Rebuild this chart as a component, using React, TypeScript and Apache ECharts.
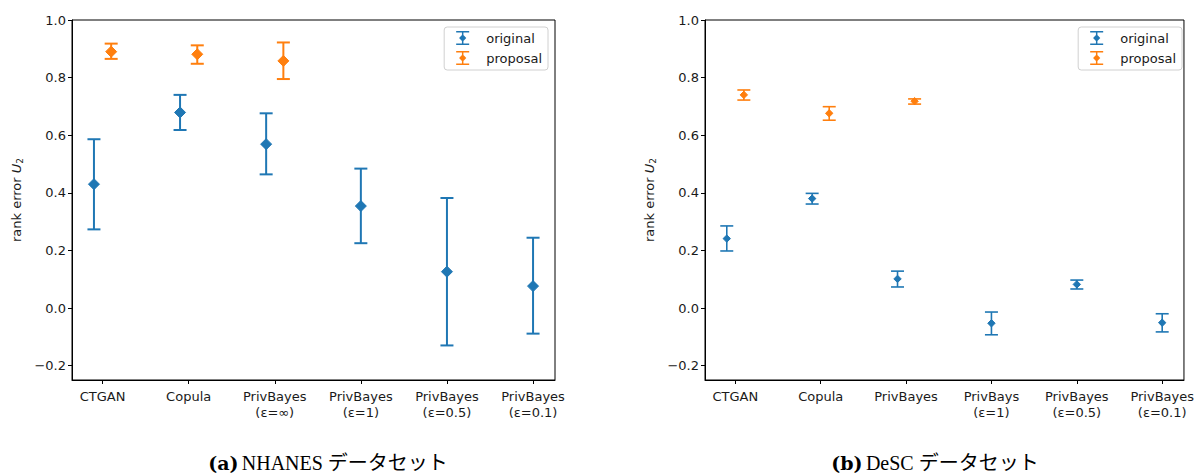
import React, { useEffect, useRef } from 'react';
import * as echarts from 'echarts';

// ---- data ----
const leftCategories = ['CTGAN', 'Copula', 'PrivBayes\n(ε=∞)', 'PrivBayes\n(ε=1)', 'PrivBayes\n(ε=0.5)', 'PrivBayes\n(ε=0.1)'];
const rightCategories = ['CTGAN', 'Copula', 'PrivBayes', 'PrivBays\n(ε=1)', 'PrivBayes\n(ε=0.5)', 'PrivBayes\n(ε=0.1)'];
const yTicks = [-0.2, 0.0, 0.2, 0.4, 0.6, 0.8, 1.0];

const leftOriginalMean = [0.43, 0.679, 0.569, 0.354, 0.126, 0.076];
const leftOriginalLow = [0.273, 0.618, 0.464, 0.225, -0.13, -0.089];
const leftOriginalHigh = [0.586, 0.74, 0.676, 0.484, 0.382, 0.244];
const leftProposalMean = [0.89, 0.881, 0.858];
const leftProposalLow = [0.865, 0.848, 0.795];
const leftProposalHigh = [0.918, 0.912, 0.922];

const rightOriginalMean = [0.241, 0.38, 0.101, -0.053, 0.082, -0.051];
const rightOriginalLow = [0.198, 0.361, 0.073, -0.093, 0.066, -0.083];
const rightOriginalHigh = [0.285, 0.398, 0.128, -0.014, 0.097, -0.02];
const rightProposalMean = [0.74, 0.676, 0.718];
const rightProposalLow = [0.722, 0.652, 0.708];
const rightProposalHigh = [0.757, 0.699, 0.726];

const seriesNames = ['original', 'proposal'];

// ---- style ----
const BLUE = '#1f77b4';
const ORANGE = '#ff7f0e';
const FONT = "'DejaVu Sans', sans-serif";
const TEXT = '#1a1a1a';
const OFFSET = 0.1;
const ICON = 'path://M0,0h13v1.5h-13z M0,12.5h13v1.5h-13z M5.75,0h1.5v14h-1.5z M6.5,3.2l3.6,3.8l-3.6,3.8l-3.6,-3.8z';

function buildData(mean: number[], low: number[], high: number[], pairedCount: number, shift: number) {
  return mean.map((m, i) => [i + (i < pairedCount ? shift : 0), m, low[i], high[i]]);
}

function makeRenderItem(color: string, half: number, lw: number) {
  return (params: any, api: any) => {
    const x = api.value(0);
    const y = api.value(1);
    const lo = api.value(2);
    const hi = api.value(3);
    const c = api.coord([x, y]);
    const pl = api.coord([x, lo]);
    const ph = api.coord([x, hi]);
    const cap = 6.5;
    const ls = { stroke: color, lineWidth: lw };
    return {
      type: 'group',
      children: [
        { type: 'line', shape: { x1: c[0], y1: pl[1], x2: c[0], y2: ph[1] }, style: ls },
        { type: 'line', shape: { x1: c[0] - cap, y1: pl[1], x2: c[0] + cap, y2: pl[1] }, style: ls },
        { type: 'line', shape: { x1: c[0] - cap, y1: ph[1], x2: c[0] + cap, y2: ph[1] }, style: ls },
        {
          type: 'polygon',
          shape: { points: [[c[0], c[1] - half], [c[0] + half, c[1]], [c[0], c[1] + half], [c[0] - half, c[1]]] },
          style: { fill: color, stroke: color, lineWidth: 1 },
        },
      ],
    };
  };
}

function fmtY(v: number) {
  const s = Math.abs(v).toFixed(1);
  return v < -1e-9 ? '\u2212' + s : s;
}

function xAxisFor(idx: number, cats: string[]) {
  return {
    type: 'value',
    gridIndex: idx,
    min: -0.355,
    max: 5.255,
    splitLine: { show: false },
    axisLine: { show: true, onZero: false, lineStyle: { color: '#000', width: 1 } },
    axisTick: { show: true, length: 4, lineStyle: { color: '#000' }, customValues: cats.map((_, i) => i) },
    axisLabel: {
      customValues: cats.map((_, i) => i),
      formatter: (v: number) => cats[Math.round(v)] ?? '',
      fontFamily: FONT,
      fontSize: 13,
      color: TEXT,
      lineHeight: 16,
      margin: 8,
    },
  };
}

function yAxisFor(idx: number) {
  return {
    type: 'value',
    gridIndex: idx,
    min: -0.25,
    max: 1.0,
    splitLine: { show: false },
    axisLine: { show: true, onZero: false, lineStyle: { color: '#000', width: 1 } },
    axisTick: { show: true, length: 4, lineStyle: { color: '#000' }, customValues: yTicks },
    axisLabel: { customValues: yTicks, formatter: fmtY, fontFamily: FONT, fontSize: 13, color: TEXT, margin: 6 },
    name: '{n|rank error }{i|U}{s|2}',
    nameLocation: 'middle',
    nameGap: 48,
    nameRotate: 90,
    nameTextStyle: {
      fontFamily: FONT,
      color: TEXT,
      rich: {
        n: { fontSize: 13, fontFamily: FONT, color: TEXT },
        i: { fontSize: 13, fontFamily: FONT, fontStyle: 'italic', color: TEXT },
        s: { fontSize: 9, fontFamily: FONT, color: TEXT, padding: [7, 0, 0, 0] },
      },
    },
  };
}

function legendFor(right: number) {
  return {
    orient: 'vertical',
    right,
    top: 27,
    data: seriesNames.map((n) => ({ name: n, icon: ICON })),
    itemWidth: 13,
    itemHeight: 14,
    itemGap: 6,
    padding: [4, 6, 5, 12],
    borderColor: '#d0d0d0',
    borderWidth: 1,
    borderRadius: 3,
    backgroundColor: 'rgba(255,255,255,0.8)',
    textStyle: { fontFamily: FONT, fontSize: 13, color: TEXT, padding: [0, 0, 0, 12] },
    selectedMode: false,
  };
}

export default function App() {
  const ref = useRef<HTMLDivElement>(null);
  useEffect(() => {
    document.body.style.margin = '0';
    if (!ref.current) return;
    const chart = echarts.init(ref.current, null, { renderer: 'svg' });
    const option: any = {
      animation: false,
      backgroundColor: '#fff',
      grid: [
        { left: 72, top: 20, width: 483, height: 360, show: true, borderColor: '#000', borderWidth: 1, backgroundColor: 'transparent' },
        { left: 705, top: 20, width: 483, height: 360, show: true, borderColor: '#000', borderWidth: 1, backgroundColor: 'transparent' },
      ],
      xAxis: [xAxisFor(0, leftCategories), xAxisFor(1, rightCategories)],
      yAxis: [yAxisFor(0), yAxisFor(1)],
      legend: [legendFor(1197 - 548), legendFor(1197 - 1182)],
      series: [
        {
          name: 'original', type: 'custom', xAxisIndex: 0, yAxisIndex: 0,
          itemStyle: { color: BLUE },
          renderItem: makeRenderItem(BLUE, 5.5, 2),
          encode: { x: 0, y: [1, 2, 3] },
          data: buildData(leftOriginalMean, leftOriginalLow, leftOriginalHigh, leftProposalMean.length, -OFFSET),
        },
        {
          name: 'proposal', type: 'custom', xAxisIndex: 0, yAxisIndex: 0,
          itemStyle: { color: ORANGE },
          renderItem: makeRenderItem(ORANGE, 5.5, 2),
          encode: { x: 0, y: [1, 2, 3] },
          data: buildData(leftProposalMean, leftProposalLow, leftProposalHigh, leftProposalMean.length, OFFSET),
        },
        {
          name: 'original', type: 'custom', xAxisIndex: 1, yAxisIndex: 1,
          itemStyle: { color: BLUE },
          renderItem: makeRenderItem(BLUE, 3.7, 1.6),
          encode: { x: 0, y: [1, 2, 3] },
          data: buildData(rightOriginalMean, rightOriginalLow, rightOriginalHigh, rightProposalMean.length, -OFFSET),
        },
        {
          name: 'proposal', type: 'custom', xAxisIndex: 1, yAxisIndex: 1,
          itemStyle: { color: ORANGE },
          renderItem: makeRenderItem(ORANGE, 3.7, 1.6),
          encode: { x: 0, y: [1, 2, 3] },
          data: buildData(rightProposalMean, rightProposalLow, rightProposalHigh, rightProposalMean.length, OFFSET),
        },
      ],
      graphic: [
        {
          type: 'text', x: 328, y: 463,
          style: {
            text: '{b|(a)} {t|NHANES データセット}',
            align: 'center', verticalAlign: 'middle',
            rich: {
              b: { fontFamily: "'DejaVu Serif', 'Liberation Serif', serif", fontWeight: 'bold', fontSize: 19, fill: '#000' },
              t: { fontFamily: "'Liberation Serif', 'Noto Sans CJK JP', serif", fontSize: 20, fill: '#000' },
            },
          },
        },
        {
          type: 'text', x: 935, y: 463,
          style: {
            text: '{b|(b)} {t|DeSC データセット}',
            align: 'center', verticalAlign: 'middle',
            rich: {
              b: { fontFamily: "'DejaVu Serif', 'Liberation Serif', serif", fontWeight: 'bold', fontSize: 19, fill: '#000' },
              t: { fontFamily: "'Liberation Serif', 'Noto Sans CJK JP', serif", fontSize: 20, fill: '#000' },
            },
          },
        },
      ],
    };
    chart.setOption(option);
    return () => chart.dispose();
  }, []);
  return <div ref={ref} style={{ width: 1197, height: 475 }} />;
}
